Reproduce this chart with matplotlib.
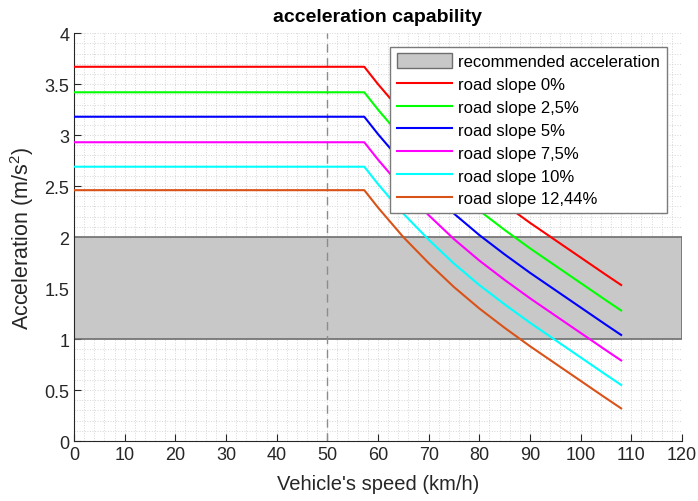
import matplotlib
matplotlib.use("Agg")
import matplotlib.pyplot as plt
from matplotlib.patches import Rectangle, Patch
from matplotlib.ticker import MultipleLocator

# speed samples (km/h)
speed = [0, 57.3, 60, 65, 70, 75, 80, 85, 90, 95, 100, 105, 108]

# acceleration (m/s^2), one list per road slope
acc_0 = [3.67, 3.67, 3.50, 3.21, 2.955, 2.72, 2.51, 2.32, 2.14, 1.97, 1.80, 1.63, 1.53]
acc_2_5 = [3.42, 3.42, 3.25, 2.96, 2.705, 2.47, 2.26, 2.07, 1.89, 1.72, 1.55, 1.38, 1.28]
acc_5 = [3.18, 3.18, 3.01, 2.72, 2.465, 2.23, 2.02, 1.83, 1.65, 1.48, 1.31, 1.14, 1.04]
acc_7_5 = [2.93, 2.93, 2.76, 2.47, 2.215, 1.98, 1.77, 1.58, 1.40, 1.23, 1.06, 0.89, 0.79]
acc_10 = [2.69, 2.69, 2.52, 2.23, 1.975, 1.74, 1.53, 1.34, 1.16, 0.99, 0.82, 0.65, 0.55]
acc_12_44 = [2.46, 2.46, 2.29, 2.00, 1.745, 1.51, 1.30, 1.11, 0.93, 0.76, 0.59, 0.42, 0.32]

labels = ["road slope 0%", "road slope 2,5%", "road slope 5%",
          "road slope 7,5%", "road slope 10%", "road slope 12,44%"]
colors = ["#ff0000", "#00ff00", "#0000ff", "#ff00ff", "#00ffff", "#d95319"]

# recommended acceleration band
rec_low, rec_high = 1.0, 2.0
ref_speed = 50

plt.rcParams["font.family"] = ["Liberation Sans", "DejaVu Sans"]
dark = "#262626"

fig = plt.figure(figsize=(6.98, 5.02), dpi=100)
ax = fig.add_axes([0.106, 0.1195, 0.871, 0.8125])

ax.add_patch(Rectangle((0, rec_low), 120, rec_high - rec_low,
                       facecolor="#c8c8c8", edgecolor="#6e6e6e", linewidth=1.2, zorder=1))
ax.axvline(ref_speed, color="#8c8c8c", linestyle=(0, (6, 4)), linewidth=1.0, zorder=1.5)

series = [acc_0, acc_2_5, acc_5, acc_7_5, acc_10, acc_12_44]
handles = [Patch(facecolor="#c8c8c8", edgecolor="#6e6e6e", label="recommended acceleration")]
for vals, lab, col in zip(series, labels, colors):
    ln, = ax.plot(speed, vals, color=col, linewidth=1.5, label=lab, zorder=3)
    handles.append(ln)

ax.set_xlim(0, 120)
ax.set_ylim(0, 4)
ax.xaxis.set_major_locator(MultipleLocator(10))
ax.yaxis.set_major_locator(MultipleLocator(0.5))
ax.xaxis.set_minor_locator(MultipleLocator(2))
ax.yaxis.set_minor_locator(MultipleLocator(0.1))
ax.yaxis.set_major_formatter(matplotlib.ticker.FuncFormatter(lambda v, p: f"{v:g}"))

ax.grid(which="both", color="#d6d6d6", linestyle=":", linewidth=0.7, zorder=0)
ax.set_axisbelow(True)

ax.tick_params(which="major", direction="in", length=5, width=0.8, colors=dark,
               labelsize=13, top=False, right=False)
ax.tick_params(which="minor", length=0)
for s in ax.spines.values():
    s.set_color(dark)
    s.set_linewidth(0.8)
ax.spines["top"].set_visible(False)
ax.spines["right"].set_visible(False)

ax.set_title("acceleration capability", fontsize=14, fontweight="bold", color="black", pad=9)
ax.set_xlabel("Vehicle's speed (km/h)", fontsize=14.5, color=dark, labelpad=8)
ax.set_ylabel("Acceleration (m/s$^{\\mathregular{2}}$)", fontsize=15.5, color=dark, labelpad=6)

leg = ax.legend(handles=handles, loc="upper right", bbox_to_anchor=(0.975, 0.967),
                fontsize=12, frameon=True, fancybox=False, borderpad=0.4,
                labelspacing=0.4, handlelength=3.3, handleheight=1.0, handletextpad=0.4,
                borderaxespad=0)
leg.get_frame().set_edgecolor("#7a7a7a")
leg.get_frame().set_linewidth(1.0)
leg.get_frame().set_alpha(1)

fig.savefig("out.png", dpi=100)
